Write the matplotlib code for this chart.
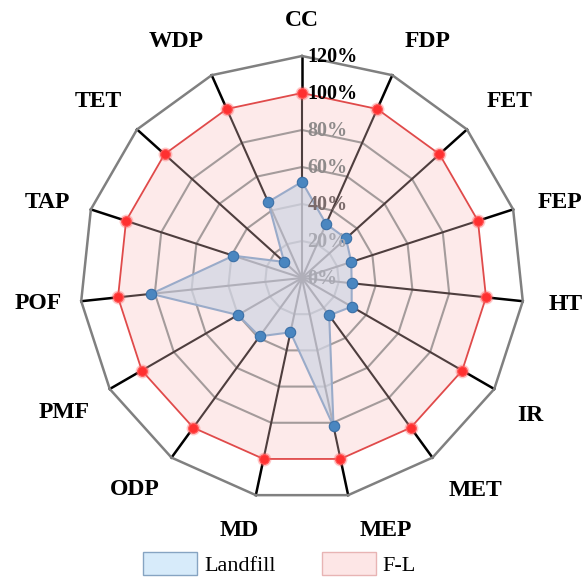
import numpy as np
import matplotlib
matplotlib.use('Agg')
import matplotlib.pyplot as plt
from matplotlib.patches import Patch

categories = ['CC', 'FDP', 'FET', 'FEP', 'HT', 'IR', 'MET', 'MEP',
              'MD', 'ODP', 'PMF', 'POF', 'TAP', 'TET', 'WDP']
landfill = [52, 32, 32, 28, 27, 31, 25, 82, 30, 39, 40, 82, 39, 13, 45]
fl = [100] * 15
ring_values = [0, 20, 40, 60, 80, 100, 120]
ring_labels = ['0%', '20%', '40%', '60%', '80%', '100%', '120%']
series_names = ['Landfill', 'F-L']

# layout only: colours of ring labels and pixel nudges of category labels
ring_label_colors = ['#a9a9b2', '#a9a9b2', '#7a6a6a', '#8e8a8a', '#8e8a8a', 'black', 'black']
label_nudge_px = [(0, 9), (17, 7), (10, 2), (5, 7), (-1, -1), (-2, 4), (17, -3), (28, -8),
                  (-7, -8), (-11, -4), (-7, 1), (1, -2), (-1, 7), (-6, 2), (-17, 7)]

SERIF = 'Liberation Serif'
W, H = 584, 582
fig = plt.figure(figsize=(W / 100, H / 100), dpi=100)
cx, cy, R = 302, 278, 222
ax = fig.add_axes([(cx - R) / W, (H - cy - R) / H, 2 * R / W, 2 * R / H], projection='polar')
ax.set_theta_offset(np.pi / 2)
ax.set_theta_direction(-1)
ax.set_ylim(0, 120)
ax.axis('off')

n = len(categories)
theta = np.arange(n) * 2 * np.pi / n
th_c = np.append(theta, theta[0])
fl_c = np.append(fl, fl[0])
lf_c = np.append(landfill, landfill[0])

# pink area
ax.fill(th_c, fl_c, facecolor='#fdeaea', edgecolor='none', zorder=1)
# inner rings
for v in ring_values[1:5]:
    ax.plot(th_c, [v] * (n + 1), color='#a49b9b', lw=1.5, zorder=2, clip_on=False)
# spokes
for t in theta:
    ax.plot([t, t], [0, 100], color='#4e3e3e', lw=1.5, zorder=2, clip_on=False)
    ax.plot([t, t], [100, 120], color='black', lw=1.8, zorder=2, clip_on=False)
# outer ring
ax.plot(th_c, [120] * (n + 1), color='#808080', lw=1.8, zorder=2, clip_on=False)

# landfill area
ax.fill(th_c, lf_c, facecolor='#d2d6e4', alpha=0.75, edgecolor='none', zorder=4)
ax.plot(th_c, lf_c, color='#9aabc9', lw=1.5, zorder=5, clip_on=False)

# F-L line
ax.plot(th_c, fl_c, color='#e04a4a', lw=1.3, zorder=5, clip_on=False)
ax.plot(theta, fl, 'o', ms=10, color='#ff6060', alpha=0.35, mec='none', zorder=6, clip_on=False)
ax.plot(theta, fl, 'o', ms=7, mfc='#ff3030', mec='#ff5a5a', mew=0.8, zorder=7, clip_on=False)

# landfill markers
ax.plot(theta, landfill, 'o', ms=7.5, mfc='#4a86c0', mec='#3a6fa6', mew=0.8, zorder=7, clip_on=False)

# radial labels
for v, lab, c in zip(ring_values, ring_labels, ring_label_colors):
    ax.annotate(lab, xy=(0, v), xytext=(4, -1), textcoords='offset points',
                ha='left', va='center', fontsize=14.5, fontweight='bold',
                family=SERIF, color=c, zorder=8, annotation_clip=False)

# category labels
for t, cat, (dx, dy) in zip(theta, categories, label_nudge_px):
    ax.annotate(cat, xy=(t, 144), xytext=(dx * 0.72, -dy * 0.72), textcoords='offset points',
                ha='center', va='center', fontsize=17, fontweight='bold',
                family=SERIF, color='black', annotation_clip=False)

handles = [Patch(facecolor='#d7ebfa', edgecolor='#86a4c2', lw=1.0),
           Patch(facecolor='#fde6e6', edgecolor='#e8b4b4', lw=1.0)]
fig.legend(handles, series_names, loc='center', bbox_to_anchor=(0.479, 0.031), ncol=2,
           frameon=False, prop={'family': SERIF, 'size': 16},
           handlelength=2.4, handleheight=1.2, handletextpad=0.33, columnspacing=2.1)

fig.savefig('out.png', dpi=100)
